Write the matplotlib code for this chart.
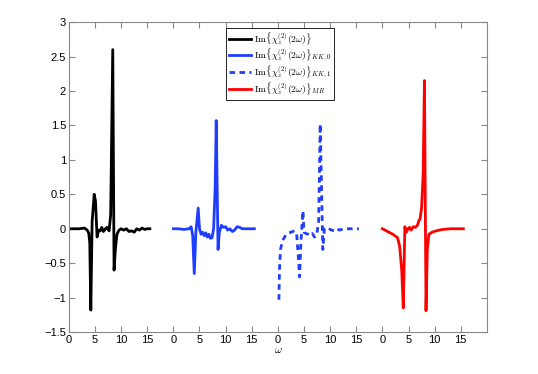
import numpy as np
import matplotlib
matplotlib.use("Agg")
import matplotlib.pyplot as plt

plt.rcParams['font.family'] = ['Liberation Sans', 'DejaVu Sans']
plt.rcParams['mathtext.fontset'] = 'cm'

# each curve is drawn on its own 20-wide slot of the x axis
desplazamientos = [0, 20, 40, 60]

w_im = [0.0, 1.0, 2.0, 3.0, 3.5, 3.8, 4.0, 4.2, 4.45, 4.85, 5.1, 5.4, 5.7, 6.0, 6.3,
        6.6, 7.0, 7.3, 7.7, 8.0, 8.4, 8.65, 8.9, 9.2, 9.6, 10.0, 10.5, 11.0, 11.5,
        12.0, 12.5, 13.0, 13.5, 14.0, 14.5, 15.0, 15.5]
v_im = [0.0, 0.0, 0.0, 0.01, -0.02, -0.06, -0.2, -1.18, 0.1, 0.5, 0.4, -0.12, -0.02,
        -0.03, 0.02, -0.04, 0.0, 0.02, -0.03, 0.2, 2.6, -0.6, -0.3, -0.08, -0.02, 0.0,
        -0.02, 0.0, -0.04, -0.03, -0.05, 0.0, -0.02, 0.01, -0.01, 0.0, 0.0]

w_kk0 = [0.0, 1.0, 2.0, 3.0, 3.4, 3.7, 4.0, 4.3, 4.75, 5.0, 5.3, 5.6, 5.9, 6.2, 6.5,
         6.8, 7.1, 7.4, 7.7, 8.0, 8.2, 8.55, 8.8, 9.2, 9.6, 10.0, 10.4, 10.8, 11.3,
         11.7, 12.2, 12.7, 13.2, 14.0, 15.5]
v_kk0 = [0.0, 0.0, -0.01, 0.0, 0.03, -0.1, -0.65, -0.05, 0.3, 0.0, -0.08, -0.05, -0.1,
         -0.06, -0.12, -0.08, -0.14, -0.13, 0.0, 0.6, 1.57, -0.3, -0.05, 0.05, 0.02,
         0.03, -0.02, 0.0, -0.04, -0.02, 0.03, 0.02, 0.0, 0.0, 0.0]

w_kk1 = [0.2, 0.3, 0.5, 0.9, 1.6, 2.5, 3.2, 3.6, 3.9, 4.15, 4.4, 4.8, 5.0, 5.4, 5.8,
         6.2, 6.6, 7.0, 7.4, 7.8, 8.1, 8.6, 8.9, 9.3, 9.8, 10.3, 10.8, 11.3, 11.8,
         12.5, 13.5, 14.5, 15.5]
v_kk1 = [-1.03, -0.6, -0.3, -0.17, -0.08, -0.05, -0.03, -0.08, -0.4, -0.7, -0.2, 0.26,
         -0.05, -0.07, -0.08, -0.1, -0.07, -0.12, -0.1, 0.1, 1.52, -0.3, 0.0, 0.02, 0.0,
         -0.02, -0.03, 0.0, -0.02, 0.0, 0.0, 0.0, 0.0]

w_mr = [0.0, 1.0, 2.0, 2.9, 3.3, 3.7, 4.0, 4.3, 4.6, 4.9, 5.2, 5.5, 5.9, 6.3, 6.7,
        7.0, 7.2, 7.5, 7.8, 8.05, 8.35, 8.6, 8.9, 9.5, 10.3, 11.5, 13.0, 15.5]
v_mr = [0.0, -0.04, -0.08, -0.13, -0.25, -0.6, -1.15, 0.03, -0.05, 0.0, 0.02, -0.02,
        0.03, 0.02, 0.05, 0.12, 0.14, 0.3, 0.8, 2.15, -1.19, -0.3, -0.08, -0.05, -0.03,
        -0.01, 0.0, 0.0]

etiquetas = [r'$\mathrm{Im}\{\chi_z^{(2)}(2\omega)\}$',
             r'$\mathrm{Im}\{\chi_z^{(2)}(2\omega)\}_{KK,0}$',
             r'$\mathrm{Im}\{\chi_z^{(2)}(2\omega)\}_{KK,1}$',
             r'$\mathrm{Im}\{\chi_z^{(2)}(2\omega)\}_{MR}$']

azul = '#1f3dff'

fig = plt.figure(figsize=(5.38, 3.74), dpi=100)
ax = fig.add_axes([0.128, 0.112, 0.777, 0.829])

ax.plot(np.array(w_im) + desplazamientos[0], v_im, color='black', lw=2, label=etiquetas[0])
ax.plot(np.array(w_kk0) + desplazamientos[1], v_kk0, color=azul, lw=2, label=etiquetas[1])
ax.plot(np.array(w_kk1) + desplazamientos[2], v_kk1, color=azul, lw=2,
        linestyle=(0, (2, 1.6)), label=etiquetas[2])
ax.plot(np.array(w_mr) + desplazamientos[3], v_mr, color='red', lw=2, label=etiquetas[3])

ax.set_xlim(0, 80)
ax.set_ylim(-1.5, 3)
ticks_x = np.arange(0, 80, 5)
ax.set_xticks(ticks_x)
ax.set_xticklabels([str(int(t) % 20) for t in ticks_x])
ax.set_yticks(np.arange(-1.5, 3.01, 0.5))
ax.set_yticklabels(['\u22121.5', '\u22121', '\u22120.5', '0', '0.5', '1', '1.5', '2', '2.5', '3'])
ax.tick_params(direction='in', top=True, right=True, labelsize=8, length=4,
               color='#888888', pad=2)
for s in ax.spines.values():
    s.set_color('#888888')
ax.set_xlabel(r'$\omega$', fontsize=8, labelpad=0)

leg = ax.legend(loc='upper center', bbox_to_anchor=(0.505, 0.982), fontsize=7,
                handlelength=2.3, borderpad=0.25, labelspacing=0.0, handletextpad=0.3,
                fancybox=False, framealpha=1, borderaxespad=0)
leg.get_frame().set_edgecolor('black')
leg.get_frame().set_linewidth(0.6)

plt.savefig('out.png', dpi=100)
